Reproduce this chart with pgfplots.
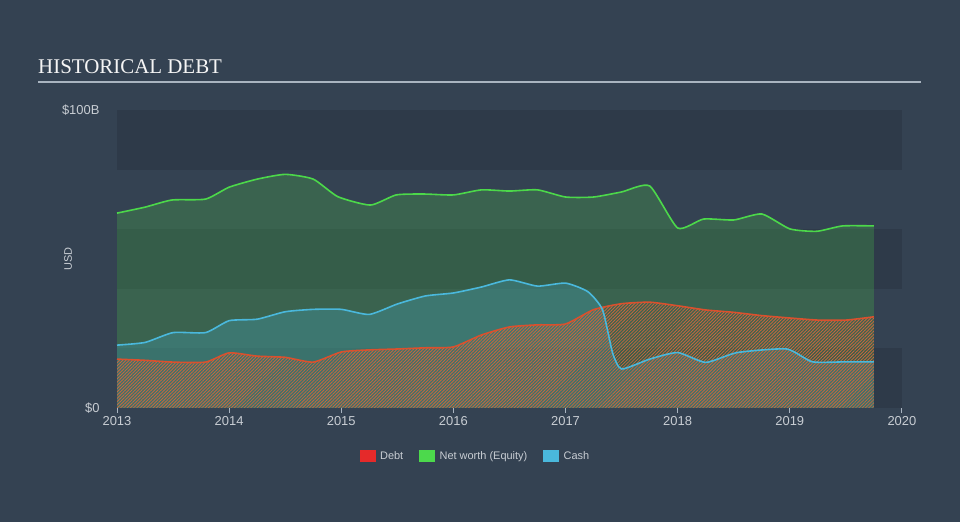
\documentclass[border=0pt]{standalone}
\usepackage{pgfplots}
\pgfplotsset{compat=1.18}
\usepackage{fontspec}
\setmainfont{Liberation Sans}
\newfontfamily\titlefont{Liberation Serif}
\usetikzlibrary{patterns.meta}
\definecolor{bg}{HTML}{344252}
\definecolor{band}{HTML}{2E3A49}
\definecolor{greenline}{HTML}{4CD84A}
\definecolor{greenfill}{HTML}{48B149}
\definecolor{cyanline}{HTML}{4AB8DC}
\definecolor{redline}{HTML}{D9512E}
\definecolor{hatch}{HTML}{C8673E}
\definecolor{txt}{HTML}{C8CDD3}
\definecolor{axisc}{HTML}{A9B4C0}
\definecolor{legred}{HTML}{E52A2A}
\definecolor{leggreen}{HTML}{4CD94C}

\pgfplotstableread{
x y
2013.00 65.4
2013.25 67.4
2013.49 69.8
2013.79 70.1
2014.00 74.1
2014.25 76.8
2014.50 78.4
2014.75 76.8
2014.97 70.9
2015.26 68.1
2015.49 71.5
2015.74 71.8
2016.00 71.5
2016.25 73.2
2016.50 72.8
2016.75 73.2
2017.00 70.8
2017.25 70.8
2017.50 72.5
2017.75 74.5
2018.00 60.4
2018.23 63.4
2018.50 63.1
2018.75 65.1
2019.00 60.1
2019.24 59.3
2019.47 61.1
2019.75 61.1
}\equity

\pgfplotstableread{
x y
2013.00 16.4
2013.25 16.0
2013.50 15.4
2013.79 15.4
2014.00 18.5
2014.25 17.4
2014.50 17.0
2014.75 15.4
2015.00 18.8
2015.25 19.5
2015.50 19.8
2015.75 20.2
2016.00 20.5
2016.25 24.5
2016.50 27.2
2016.75 27.9
2017.00 28.2
2017.25 33.0
2017.50 35.0
2017.75 35.5
2018.00 34.3
2018.25 32.9
2018.50 32.1
2018.75 31.0
2019.00 30.2
2019.25 29.5
2019.50 29.5
2019.75 30.6
}\debt

\pgfplotstableread{
x y
2013.00 21.1
2013.25 22.0
2013.50 25.3
2013.79 25.3
2014.00 29.3
2014.25 29.8
2014.50 32.3
2014.75 33.1
2015.00 33.1
2015.25 31.4
2015.50 34.9
2015.75 37.6
2016.00 38.6
2016.25 40.6
2016.50 43.0
2016.75 40.9
2017.00 41.9
2017.20 39.0
2017.33 32.9
2017.42 18.4
2017.50 13.1
2017.75 16.4
2018.00 18.6
2018.25 15.3
2018.53 18.6
2018.97 19.8
2019.20 15.5
2019.50 15.5
2019.75 15.5
}\cash

\begin{document}
\begin{tikzpicture}
\fill[bg] (0bp,0bp) rectangle (960bp,522bp);
\useasboundingbox (0bp,0bp) rectangle (960bp,522bp);
\node[anchor=base west, text=white!92!gray, inner sep=0pt, font=\titlefont\fontsize{21}{24}\selectfont] at (38bp,448.5bp) {HISTORICAL DEBT};
\draw[axisc, line width=1.4bp] (38bp,440bp) -- (921bp,440bp);
\begin{axis}[
  at={(117bp,114bp)}, anchor=south west,
  scale only axis, width=785bp, height=298bp,
  xmin=2013, xmax=2020, ymin=0, ymax=100,
  axis y line*=left, axis x line*=bottom,
  y axis line style={draw=none},
  x axis line style={axisc, line width=1bp},
  xtick={2013,2014,...,2020},
  xticklabel style={/pgf/number format/1000 sep=, text=txt, font=\fontsize{13}{15}\selectfont},
  /pgf/number format/assume math mode=true,
  xtick style={axisc, line width=1bp},
  tick align=outside, major tick length=5bp,
  ytick={0,100}, yticklabels={\$0,\$100B},
  ytick style={draw=none},
  yticklabel style={text=txt, font=\fontsize{13}{15}\selectfont, xshift=-9bp},
  ylabel={USD},
  ylabel style={at={(axis description cs:-0.0624,0.5)}, anchor=center, text=txt, font=\fontsize{11}{13}\selectfont},
  legend style={at={(axis description cs:0.4567,-0.161)}, anchor=center, draw=none, fill=none,
    text=txt, font=\fontsize{11}{13}\selectfont, legend columns=3,
    /tikz/every even column/.append style={column sep=14bp},
    /tikz/every odd column/.append style={column sep=3bp}},
  clip=false,
]
\fill[band] (axis cs:2013,0) rectangle (axis cs:2020,20);
\fill[band] (axis cs:2013,40) rectangle (axis cs:2020,60);
\fill[band] (axis cs:2013,80) rectangle (axis cs:2020,100);

\addplot[forget plot, draw=none, fill=greenfill, fill opacity=0.3, smooth, tension=0.35] table {\equity} \closedcycle;
\addplot[forget plot, draw=none, fill=cyanline, fill opacity=0.24, smooth, tension=0.35] table {\cash} \closedcycle;
\addplot[forget plot, draw=none, pattern={Lines[angle=45,distance=2.3bp,line width=0.85bp]}, pattern color=hatch, fill opacity=0.42, smooth, tension=0.35] table {\debt} \closedcycle;

\addplot[forget plot, redline, line width=1.6bp, smooth, tension=0.35] table {\debt};
\addplot[forget plot, greenline, line width=1.6bp, smooth, tension=0.35] table {\equity};
\addplot[forget plot, cyanline, line width=1.6bp, smooth, tension=0.35] table {\cash};

\addlegendimage{legend image code/.code={\fill[legred] (0bp,-5.5bp) rectangle (15bp,5.5bp);}}
\addlegendentry{Debt}
\addlegendimage{legend image code/.code={\fill[leggreen] (0bp,-5.5bp) rectangle (15bp,5.5bp);}}
\addlegendentry{Net worth (Equity)}
\addlegendimage{legend image code/.code={\fill[cyanline] (0bp,-5.5bp) rectangle (15bp,5.5bp);}}
\addlegendentry{Cash}
\end{axis}
\end{tikzpicture}
\end{document}
